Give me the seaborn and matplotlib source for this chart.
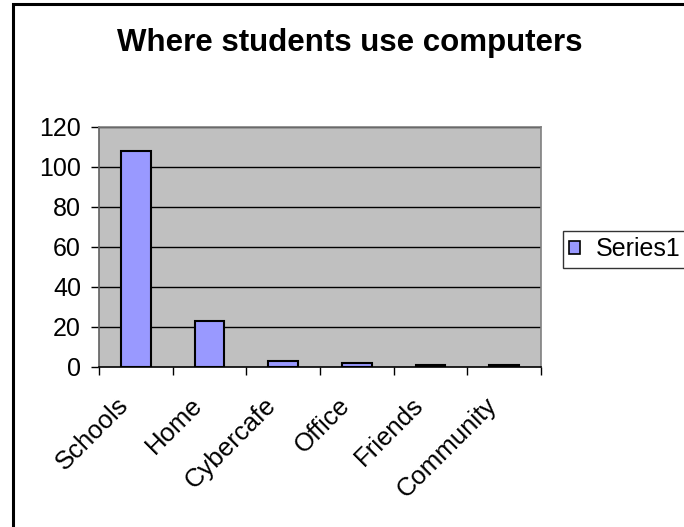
import matplotlib
matplotlib.use("Agg")
import matplotlib.pyplot as plt
import matplotlib.transforms as mtransforms
import seaborn as sns
import pandas as pd
import numpy as np
from matplotlib.patches import Rectangle, Patch

places = ["Schools", "Home", "Cybercafe", "Office", "Friends", "Community"]
counts = [108, 23, 3, 2, 1, 1]
yticks = [0, 20, 40, 60, 80, 100, 120]
series_name = "Series1"

sns.set_theme(style="white")
plt.rcParams["font.family"] = ["Liberation Sans", "DejaVu Sans"]
plt.rcParams["text.color"] = "black"
plt.rcParams["xtick.color"] = "black"
plt.rcParams["ytick.color"] = "black"

W, H = 684, 527
fig = plt.figure(figsize=(W / 100, H / 100), dpi=100)
fig.patch.set_facecolor("white")

# outer chart frame (runs off the right and bottom edges)
fig.add_artist(Rectangle((13 / W, -0.1), 1.2, 1.1 - 4 / H, transform=fig.transFigure,
                         fill=False, edgecolor="black", linewidth=2.2, clip_on=False))

x0, x1, y0, y1 = 99, 541, 127, 367
ax = fig.add_axes([x0 / W, 1 - y1 / H, (x1 - x0) / W, (y1 - y0) / H])
ax.set_facecolor("#C0C0C0")

df = pd.DataFrame({"place": places, "count": counts})
sns.barplot(data=df, x="place", y="count", ax=ax, color="#9999FF",
            width=0.4, edgecolor="black", linewidth=1.5, saturation=1, zorder=3)

ax.set_ylim(0, 120)
ax.set_xlim(-0.5, len(places) - 0.5)
ax.set_yticks(yticks)
ax.set_yticklabels([str(v) for v in yticks], fontsize=18)
for v in yticks[1:]:
    ax.axhline(v, color="black", linewidth=1.0, zorder=1)

ax.set_xticks(np.arange(len(places)))
ax.set_xticklabels(places, rotation=45, ha="right", va="center",
                   rotation_mode="anchor", fontsize=18.5)
ax.tick_params(axis="x", length=0, pad=25)
shift = mtransforms.ScaledTranslation(-11 / 100, 0, fig.dpi_scale_trans)
for lbl in ax.get_xticklabels():
    lbl.set_transform(lbl.get_transform() + shift)
ax.set_xticks(np.arange(len(places) + 1) - 0.5, minor=True)
ax.tick_params(axis="x", which="minor", length=6, width=1, color="black",
               direction="out", bottom=True)
ax.tick_params(axis="y", length=6, width=1, color="black", direction="out",
               left=True, pad=7)
ax.set_xlabel("")
ax.set_ylabel("")

for side in ["top", "right"]:
    ax.spines[side].set_color("#808080")
    ax.spines[side].set_linewidth(1.2)
ax.spines["left"].set_color("#606060")
ax.spines["left"].set_linewidth(1.2)
ax.spines["bottom"].set_color("black")
ax.spines["bottom"].set_linewidth(1.2)

fig.text(350 / W, 1 - 43 / H, "Where students use computers", ha="center", va="center",
         fontsize=22.5, fontweight="bold")

handle = Patch(facecolor="#9999FF", edgecolor="black", linewidth=1.2)
leg = fig.legend([handle], [series_name], loc="upper left",
                 bbox_to_anchor=(563 / W, 1 - 231 / H), fontsize=18, frameon=True,
                 fancybox=False, handlelength=0.42, handleheight=0.42, handletextpad=0.65,
                 borderpad=0.25, borderaxespad=0)
leg.get_frame().set_edgecolor("black")
leg.get_frame().set_linewidth(1)

fig.savefig("out.png", dpi=100)
